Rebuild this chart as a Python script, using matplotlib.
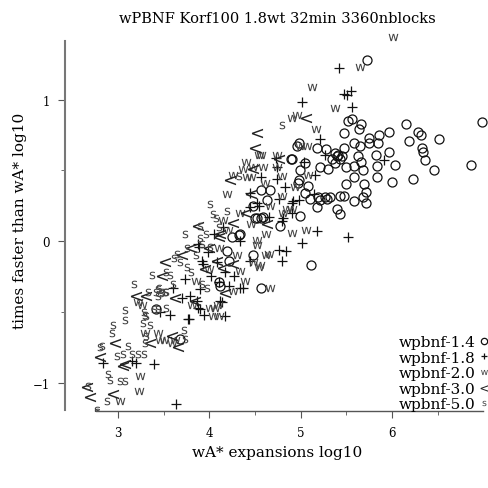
import matplotlib
matplotlib.use('Agg')
import matplotlib.pyplot as plt
import numpy as np

# wpbnf-1.4 (circles)
c14_x = [5.72, 5.56, 5.66, 6.15, 6.98, 5.64, 5.47, 5.86, 5.97, 6.28, 6.32, 6.19, 6.51, 5.75,
         5.58, 5.65, 5.75, 5.85, 5.47, 6.33, 6.34, 5.97, 5.82, 5.63, 5.40, 5.43, 6.36, 5.66,
         6.03, 6.86, 5.83, 5.49, 5.58, 5.68, 6.46, 5.83, 5.58, 6.23, 6.00, 5.50, 5.69, 5.71,
         5.43, 5.47, 5.68, 5.58, 5.71, 5.40, 5.43, 5.34, 5.41, 5.37, 5.32, 5.52, 4.96, 4.98,
         5.18, 5.28, 4.89, 5.38, 4.99, 5.05, 5.21, 5.30, 4.98, 5.08, 4.56, 4.66, 5.05, 5.19,
         5.27, 5.10, 5.21, 5.29, 5.18, 4.99, 4.57, 4.50, 4.77, 4.48, 4.63, 4.33, 4.48, 4.21,
         5.11, 4.57, 4.11, 4.12, 4.90, 4.59, 4.52, 4.32, 4.25, 4.19, 4.97, 3.68, 3.42, 5.45]
c14_y = [1.28, 0.86, 0.83, 0.83, 0.84, 0.79, 0.76, 0.75, 0.77, 0.77, 0.75, 0.71, 0.72, 0.73,
         0.69, 0.67, 0.69, 0.69, 0.66, 0.66, 0.63, 0.63, 0.61, 0.60, 0.60, 0.58, 0.57, 0.56,
         0.54, 0.54, 0.53, 0.52, 0.53, 0.50, 0.50, 0.45, 0.45, 0.44, 0.42, 0.40, 0.40, 0.35,
         0.32, 0.32, 0.31, 0.28, 0.27, 0.23, 0.19, 0.58, 0.61, 0.62, 0.31, 0.85, 0.67, 0.69,
         0.66, 0.65, 0.58, 0.55, 0.50, 0.55, 0.52, 0.51, 0.43, 0.39, 0.36, 0.36, 0.34, 0.31,
         0.31, 0.30, 0.29, 0.30, 0.24, 0.18, 0.16, 0.16, 0.11, 0.25, 0.29, 0.05, -0.10, -0.14,
         -0.17, -0.33, -0.29, -0.32, 0.58, 0.17, 0.16, 0.04, 0.03, -0.07, 0.41, -0.69, -0.48, 0.60]

# wpbnf-1.8 (plus)
p18_x = [5.42, 5.47, 5.51, 5.55, 5.56, 5.91, 5.01, 5.21, 5.27, 4.73, 5.04, 5.16, 4.74, 4.83,
         4.57, 5.14, 4.90, 4.98, 4.76, 4.44, 4.54, 4.44, 4.90, 5.18, 5.01, 4.79, 4.76, 4.84,
         4.79, 4.44, 4.27, 4.37, 4.34, 4.21, 4.14, 3.94, 4.17, 5.52, 3.88, 3.89, 3.92, 4.17,
         4.10, 3.86, 4.12, 3.90, 3.78, 3.73, 3.79, 2.84, 3.15, 3.20, 3.39, 3.64, 3.90, 3.88,
         3.77, 3.57, 3.46, 4.74, 4.92, 4.52, 4.65, 4.81, 4.34, 3.93, 4.05, 4.15, 3.98, 4.08,
         3.70, 3.60, 4.02]
p18_y = [1.22, 1.04, 1.03, 1.06, 0.95, 0.57, 0.98, 0.72, 0.61, 0.59, 0.56, 0.47, 0.44, 0.38,
         0.45, 0.33, 0.27, 0.29, 0.30, 0.34, 0.25, 0.24, 0.20, 0.07, -0.01, 0.14, -0.06, -0.07,
         -0.14, -0.14, -0.25, -0.33, -0.33, -0.32, -0.43, -0.52, -0.53, 0.03, -0.02, -0.04, -0.14, -0.22,
         -0.29, -0.42, -0.42, -0.48, -0.55, -0.27, -0.39, -0.86, -0.85, -0.86, -0.87, -1.15, -0.34, -0.47,
         -0.55, -0.52, -0.50, 0.52, 0.28, 0.27, 0.17, 0.16, 0.00, -0.16, 0.05, 0.10, -0.08, -0.15,
         -0.40, -0.33, -0.25]

# wpbnf-2.0 (w)
w20_x = [6.01, 5.65, 5.38, 5.12, 4.90, 4.96, 5.17, 4.56, 4.74, 5.07, 4.99, 4.37, 4.48, 4.59,
         4.74, 4.79, 5.08, 4.26, 4.61, 4.94, 4.19, 4.79, 4.81, 4.66, 4.34, 5.06, 4.90, 4.45,
         4.52, 4.65, 4.54, 4.34, 4.66, 4.26, 4.01, 4.06, 4.04, 4.10, 4.39, 3.81, 4.48, 3.46,
         3.59, 3.24, 3.23, 3.02, 3.30, 3.44, 3.22, 3.26, 3.50, 3.62, 4.54, 4.41, 4.46, 4.90,
         4.85, 4.52, 4.62, 4.55, 4.09, 4.40, 4.20, 4.10, 4.30, 4.00, 3.85, 4.15, 4.62]
w20_y = [1.44, 1.23, 0.94, 1.09, 0.87, 0.89, 0.79, 0.61, 0.61, 0.67, 0.67, 0.51, 0.52, 0.52,
         0.52, 0.46, 0.47, 0.47, 0.41, 0.38, 0.33, 0.32, 0.20, 0.25, 0.20, 0.08, 0.06, 0.12,
         0.01, -0.09, -0.18, -0.21, -0.33, -0.35, -0.47, -0.47, -0.53, -0.53, -0.28, -0.45, -0.15, -0.70,
         -0.72, -0.95, -1.06, -1.13, -0.65, -0.65, -0.43, -0.45, -0.70, -0.70, 0.61, 0.45, 0.45, 0.23,
         0.23, -0.03, -0.10, -0.17, -0.45, 0.56, 0.08, -0.05, -0.10, -0.20, -0.28, 0.15, 0.05]

# wpbnf-3.0 (<)
l30_x = [5.06, 4.52, 4.50, 4.76, 4.48, 4.23, 4.45, 4.63, 4.26, 4.12, 4.10, 4.15, 4.17, 3.88,
         4.08, 4.26, 3.48, 3.31, 3.70, 3.51, 3.84, 3.59, 3.35, 3.20, 2.97, 3.06, 3.66, 2.80,
         3.08, 2.66, 2.69, 2.95, 3.80, 3.95, 3.62, 4.00, 4.40]
l30_y = [0.87, 0.76, 0.66, 0.58, 0.51, 0.43, 0.33, 0.12, 0.13, 0.05, 0.03, -0.19, -0.37, 0.11,
         -0.14, -0.16, -0.25, -0.39, -0.10, -0.15, -0.42, -0.67, -0.72, -0.39, -0.72, -0.88, -0.75, -0.82,
         -0.87, -1.03, -1.10, -1.08, -0.05, -0.20, -0.40, -0.05, 0.20]

# wpbnf-5.0 (s)
s50_x = [4.01, 3.73, 3.75, 3.90, 3.37, 3.57, 3.44, 3.48, 3.51, 4.04, 4.07, 4.79, 4.32, 4.19,
         3.90, 3.92, 3.53, 3.45, 3.61, 3.65, 4.01, 3.97, 3.92, 3.44, 3.52, 3.30, 3.39, 3.44,
         3.53, 3.27, 3.35, 3.31, 3.30, 3.72, 3.73, 3.33, 3.42, 3.47, 3.28, 3.31, 3.08, 2.93,
         3.06, 3.15, 3.22, 3.28, 2.99, 3.11, 2.89, 2.91, 3.02, 3.08, 2.67, 2.88, 2.77, 2.77,
         3.08, 2.95, 2.80, 2.83, 3.18, 3.76, 3.85, 4.10, 3.80, 3.60, 3.68, 3.96]
s50_y = [0.26, 0.05, -0.05, 0.02, -0.24, -0.24, -0.34, -0.36, -0.36, 0.19, 0.16, 0.82, 0.46, 0.21,
         0.11, -0.02, -0.22, -0.33, -0.12, -0.09, -0.04, -0.33, -0.30, -0.39, -0.36, -0.52, -0.48, -0.48,
         -0.47, -0.58, -0.59, -0.67, -0.72, -0.63, -0.69, -0.36, -0.36, -0.37, -0.50, -0.53, -0.56, -0.65,
         -0.80, -0.80, -0.80, -0.80, -0.81, -0.74, -0.94, -0.98, -0.99, -0.99, -1.02, -1.13, -1.19, -1.21,
         -0.49, -0.59, -0.75, -0.74, -0.30, -0.18, -0.10, 0.10, -0.22, -0.30, -0.15, 0.05]

serif = 'DejaVu Serif'

fig = plt.figure(figsize=(4.89, 4.89), dpi=100)
ax = fig.add_axes([65 / 489, 77 / 489, 424 / 489, 382 / 489])

ax.plot(c14_x, c14_y, 'o', ms=6.5, mfc='none', mec='#111111', mew=0.9, ls='none', label='wpbnf-1.4')
ax.plot(p18_x, p18_y, '+', ms=6.5, color='#111111', mew=0.9, ls='none', label='wpbnf-1.8')
ax.plot(w20_x, w20_y, marker=r'$\mathsf{w}$', ms=7, color='#444444', mew=0, ls='none', label='wpbnf-2.0')
ax.plot(l30_x, l30_y, marker=r'$<$', ms=8, color='#222222', mew=0, ls='none', label='wpbnf-3.0')
ax.plot(s50_x, s50_y, marker=r'$\mathsf{s}$', ms=5.5, color='#444444', mew=0, ls='none', label='wpbnf-5.0')

ax.set_xlim(2.42, 7.06)
ax.set_ylim(-1.20, 1.498)

for side in ['top', 'right']:
    ax.spines[side].set_visible(False)
ax.spines['left'].set_bounds(-1.19, 1.41)
ax.spines['bottom'].set_bounds(2.76, 6.99)
ax.spines['left'].set_color('#777777')
ax.spines['bottom'].set_color('#555555')
ax.spines['left'].set_linewidth(1.5)
ax.spines['bottom'].set_linewidth(1.0)

ax.set_xticks([3, 4, 5, 6])
ax.set_xticks([3.5, 4.5, 5.5, 6.5], minor=True)
ax.set_yticks([-1, 0, 1])
ax.set_yticks([-0.5, 0.5], minor=True)
ax.tick_params(which='major', length=5, color='#555555', labelsize=8.5, pad=6)
ax.tick_params(which='minor', length=3, color='#555555')
for lab in ax.get_xticklabels() + ax.get_yticklabels():
    lab.set_fontfamily(serif)

ax.set_xlabel('wA* expansions log10', fontfamily=serif, fontsize=11)
ax.set_ylabel('times faster than wA* log10', fontfamily=serif, fontsize=11)
ax.set_title('wPBNF Korf100 1.8wt 32min 3360nblocks', fontfamily=serif, fontsize=10.5, pad=5)

ax.legend(loc='lower right', bbox_to_anchor=(1.0, -0.005), markerfirst=False, frameon=False,
          handlelength=0.5, handletextpad=0.3, labelspacing=0.1, borderaxespad=0.0,
          borderpad=0.1, markerscale=0.7, prop={'family': serif, 'size': 11})

fig.savefig('out.png', dpi=100)
